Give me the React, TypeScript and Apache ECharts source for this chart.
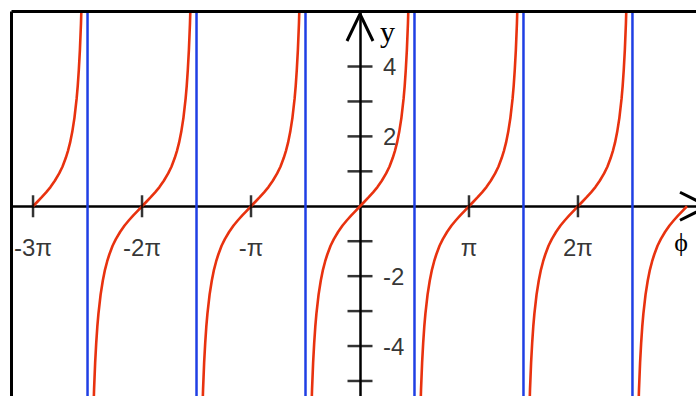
import React, { useEffect, useRef } from "react";
import * as echarts from "echarts";

// Horizontal axis is measured in multiples of π, vertical axis in plain units.
const X_MIN = -3.193;
const X_MAX = 3.083;
const Y_MIN = -5.43;
const Y_MAX = 5.56;

// One branch of tan φ: offset from the branch centre (in π) and its value.
const branchOffsets = [
  -0.46, -0.45, -0.44, -0.43, -0.42, -0.41, -0.4, -0.38, -0.36, -0.34, -0.32, -0.3, -0.27, -0.24, -0.2,
  -0.16, -0.12, -0.08, -0.04, 0, 0.04, 0.08, 0.12, 0.16, 0.2, 0.24, 0.27, 0.3, 0.32, 0.34, 0.36, 0.38,
  0.4, 0.41, 0.42, 0.43, 0.44, 0.45, 0.46,
];
const branchValues = [
  -7.92, -6.31, -5.24, -4.47, -3.9, -3.44, -3.08, -2.53, -2.13, -1.82, -1.58, -1.38, -1.13, -0.94, -0.73,
  -0.55, -0.4, -0.26, -0.13, 0, 0.13, 0.26, 0.4, 0.55, 0.73, 0.94, 1.13, 1.38, 1.58, 1.82, 2.13, 2.53,
  3.08, 3.44, 3.9, 4.47, 5.24, 6.31, 7.92,
];

// Where each branch sits and which part of it is drawn.
const branchCenters = [-3, -2, -1, 0, 1, 2, 3];
const branchStart = [0, -0.5, -0.5, -0.5, -0.5, -0.5, -0.5];
const branchEnd = [0.5, 0.5, 0.5, 0.5, 0.5, 0.5, 0];

// Vertical asymptotes at odd multiples of π/2.
const asymptotes = [-2.5, -1.5, -0.5, 0.5, 1.5, 2.5];

const xTicks = [-3, -2, -1, 1, 2];
const xTickLabels = ["-3π", "-2π", "-π", "π", "2π"];
const yTicks = [-5, -4, -3, -2, -1, 1, 2, 3, 4];
const yTickLabels = ["", "-4", "", "-2", "", "", "2", "", "4"];

const RED = "#e8320f";
const BLUE = "#1f3fe4";
const SANS = "'Liberation Sans', Arial, Helvetica, sans-serif";
const SERIF = "'Liberation Serif', 'DejaVu Serif', 'Times New Roman', serif";

export default function App() {
  const ref = useRef<HTMLDivElement>(null);

  useEffect(() => {
    if (!ref.current) return;
    const chart = echarts.init(ref.current, undefined, { renderer: "svg" });

    const branchSeries = branchCenters.map((c, b) => ({
      type: "line",
      showSymbol: false,
      silent: true,
      z: 4,
      lineStyle: { color: RED, width: 2.6 },
      data: branchOffsets
        .map((o, i) => ({ o, v: branchValues[i] }))
        .filter((p) => p.o >= branchStart[b] && p.o <= branchEnd[b])
        .map((p) => [c + p.o, p.v]),
    }));

    const asymptoteSeries = asymptotes.map((a) => ({
      type: "line",
      showSymbol: false,
      silent: true,
      z: 3,
      lineStyle: { color: BLUE, width: 2.5 },
      data: [
        [a, Y_MIN],
        [a, Y_MAX],
      ],
    }));

    const xTickSeries = {
      type: "scatter",
      silent: true,
      z: 5,
      symbol: "rect",
      symbolSize: [2.5, 22],
      itemStyle: { color: "#000" },
      label: {
        show: true,
        position: "inside",
        offset: [0, 41],
        align: "center",
        verticalAlign: "middle",
        formatter: "{b}",
        color: "#000",
        fontSize: 24,
        fontFamily: SANS,
      },
      data: xTicks.map((v, i) => ({ name: xTickLabels[i], value: [v, 0] })),
    };

    const yTickSeries = {
      type: "scatter",
      silent: true,
      z: 5,
      symbol: "rect",
      symbolSize: [25, 2.5],
      itemStyle: { color: "#000" },
      label: {
        show: true,
        position: "inside",
        offset: [23, 0],
        align: "left",
        verticalAlign: "middle",
        formatter: "{b}",
        color: "#000",
        fontSize: 24,
        fontFamily: SANS,
      },
      data: yTicks.map((v, i) => ({ name: yTickLabels[i], value: [0, v] })),
    };

    chart.setOption({
      animation: false,
      backgroundColor: "#fff",
      grid: { left: 12, top: 12, right: 0, bottom: 0, containLabel: false },
      xAxis: {
        type: "value",
        min: X_MIN,
        max: X_MAX,
        axisLine: { show: true, onZero: true, lineStyle: { color: "#000", width: 2.5 } },
        axisTick: { show: false },
        axisLabel: { show: false },
        splitLine: { show: false },
      },
      yAxis: {
        type: "value",
        min: Y_MIN,
        max: Y_MAX,
        axisLine: { show: true, onZero: true, lineStyle: { color: "#000", width: 2.5 } },
        axisTick: { show: false },
        axisLabel: { show: false },
        splitLine: { show: false },
      },
      series: [...asymptoteSeries, ...branchSeries, xTickSeries, yTickSeries],
    });

    // Frame, open arrow heads and axis names, placed from the origin's pixel position.
    const [ox, oy] = chart.convertToPixel({ gridIndex: 0 }, [0, 0]) as number[];
    const line = { stroke: "#000", lineWidth: 3, fill: "none" };
    chart.setOption({
      graphic: [
        { type: "line", z: 10, shape: { x1: 11.5, y1: 11.5, x2: 696, y2: 11.5 }, style: line },
        { type: "line", z: 10, shape: { x1: 11.5, y1: 11.5, x2: 11.5, y2: 396 }, style: line },
        {
          type: "polyline",
          z: 10,
          shape: { points: [[ox - 13, 41], [ox, 14], [ox + 13, 41]] },
          style: line,
        },
        {
          type: "polyline",
          z: 10,
          shape: { points: [[ox + 320, oy - 14], [ox + 348, oy], [ox + 320, oy + 14]] },
          style: line,
        },
        {
          type: "text",
          z: 10,
          x: ox + 20,
          y: 31.5,
          style: { text: "y", fontSize: 30, fontFamily: SERIF, fill: "#000", align: "left", verticalAlign: "middle" },
        },
        {
          type: "text",
          z: 10,
          x: ox + 321,
          y: oy + 36,
          style: { text: "ϕ", fontSize: 26, fontFamily: SERIF, fill: "#000", align: "center", verticalAlign: "middle" },
        },
      ],
    });

    return () => chart.dispose();
  }, []);

  return (
    <div
      ref={ref}
      style={{ position: "absolute", left: 0, top: 0, width: 696, height: 396, background: "#fff" }}
    />
  );
}
